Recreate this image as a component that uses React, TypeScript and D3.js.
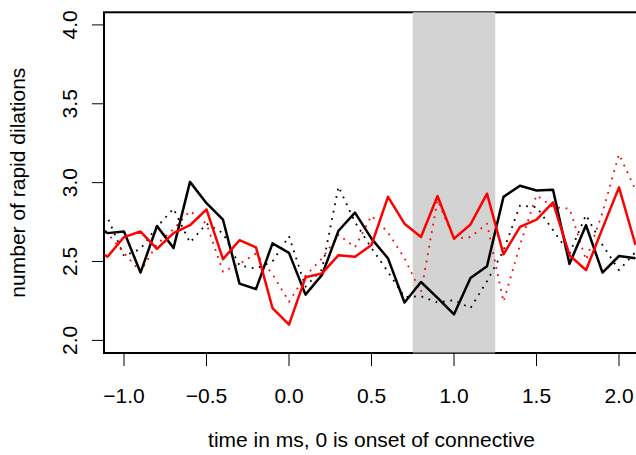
import React from "react";
import * as d3 from "d3";

// time bins (ms), one before the visible range so the lines run into the left edge
const times = [-1.2, -1.1, -1.0, -0.9, -0.8, -0.7, -0.6, -0.5, -0.4, -0.3,
    -0.2, -0.1, 0.0, 0.1, 0.2, 0.3, 0.4, 0.5, 0.6, 0.7,
    0.8, 0.9, 1.0, 1.1, 1.2, 1.3, 1.4, 1.5, 1.6, 1.7,
    1.8, 1.9, 2.0, 2.1];

const blackSolid = [2.76, 2.68, 2.69, 2.43, 2.725, 2.585, 3.005, 2.87, 2.765, 2.36,
    2.325, 2.615, 2.555, 2.29, 2.415, 2.695, 2.81, 2.645, 2.52, 2.24,
    2.37, 2.27, 2.165, 2.395, 2.47, 2.91, 2.98, 2.95, 2.955, 2.485,
    2.73, 2.43, 2.535, 2.52];

const blackDotted = [2.85, 2.78, 2.535, 2.58, 2.72, 2.835, 2.62, 2.74, 2.68, 2.475,
    2.455, 2.50, 2.66, 2.34, 2.45, 2.975, 2.75, 2.585, 2.435, 2.275,
    2.28, 2.24, 2.255, 2.205, 2.375, 2.57, 2.855, 2.845, 2.70, 2.55,
    2.795, 2.605, 2.445, 2.56];

const redSolid = [2.60, 2.53, 2.655, 2.69, 2.58, 2.68, 2.73, 2.83, 2.515, 2.635,
    2.59, 2.205, 2.10, 2.40, 2.425, 2.54, 2.53, 2.605, 2.91, 2.74,
    2.655, 2.915, 2.645, 2.735, 2.93, 2.545, 2.72, 2.765, 2.875, 2.54,
    2.445, 2.71, 2.97, 2.605];

const redDotted = [2.72, 2.68, 2.555, 2.435, 2.61, 2.705, 2.82, 2.74, 2.435, 2.485,
    2.55, 2.42, 2.245, 2.41, 2.52, 2.67, 2.59, 2.79, 2.685, 2.52,
    2.305, 2.89, 2.645, 2.655, 2.74, 2.245, 2.605, 2.92, 2.845, 2.835,
    2.51, 2.81, 3.18, 2.955];

const connectiveWindow = [0.75, 1.25];
const xTicks = [-1, -0.5, 0, 0.5, 1, 1.5, 2];
const yTicks = [2, 2.5, 3, 3.5, 4];

const W = 636;
const H = 455;
const plot = {left: 104, top: 12.3, right: 639, bottom: 353};
const font = "'Liberation Sans', Arial, Helvetica, sans-serif";
const fs = 21;

const fmt = (v: number) => (v < 0 ? "\u2212" : "") + Math.abs(v).toFixed(1);

export default function App() {
    const x = d3.scaleLinear().domain([-1.1212, 2.1212]).range([plot.left, plot.right]);
    const y = d3.scaleLinear().domain([1.92, 4.08]).range([plot.bottom, plot.top]);

    const line = d3.line<number>()
        .x((_, i) => x(times[i]))
        .y(d => y(d));

    const series = [
        {values: blackDotted, color: "#000000", dotted: true},
        {values: redDotted, color: "#ff0000", dotted: true},
        {values: blackSolid, color: "#000000", dotted: false},
        {values: redSolid, color: "#ff0000", dotted: false},
    ];

    return (
        <svg width={W} height={H} style={{position: "absolute", left: 0, top: 0, background: "#fff"}}
             fontFamily={font}>
            <defs>
                <clipPath id="plotArea">
                    <rect x={plot.left} y={plot.top} width={plot.right - plot.left} height={plot.bottom - plot.top}/>
                </clipPath>
            </defs>

            {/* box */}
            <rect x={plot.left} y={plot.top} width={plot.right - plot.left} height={plot.bottom - plot.top}
                  fill="none" stroke="#000" strokeWidth={2}/>

            {/* shaded window */}
            <rect x={x(connectiveWindow[0])} y={plot.top} width={x(connectiveWindow[1]) - x(connectiveWindow[0])}
                  height={plot.bottom - plot.top + 0.5} fill="#d3d3d3"/>

            <g clipPath="url(#plotArea)">
                {series.map((s, i) => (
                    <path key={i} d={line(s.values) || ""} fill="none" stroke={s.color}
                          strokeWidth={s.dotted ? 1.8 : 2.5}
                          strokeDasharray={s.dotted ? "1.8 5.7" : undefined}
                          strokeLinejoin="round"/>
                ))}
            </g>

            {/* x axis */}
            <line x1={x(xTicks[0])} x2={x(xTicks[xTicks.length - 1])} y1={plot.bottom} y2={plot.bottom} stroke="#000"/>
            {xTicks.map(t => (
                <g key={t}>
                    <line x1={x(t)} x2={x(t)} y1={plot.bottom} y2={plot.bottom + 13} stroke="#000"/>
                    <text x={x(t)} y={403} fontSize={fs} textAnchor="middle">{fmt(t)}</text>
                </g>
            ))}

            {/* y axis */}
            <line x1={plot.left} x2={plot.left} y1={y(yTicks[0])} y2={y(yTicks[yTicks.length - 1])} stroke="#000"/>
            {yTicks.map(t => (
                <g key={t}>
                    <line x1={plot.left - 12} x2={plot.left} y1={y(t)} y2={y(t)} stroke="#000"/>
                    <text transform={`translate(77, ${y(t)}) rotate(-90)`} fontSize={fs} textAnchor="middle">{fmt(t)}</text>
                </g>
            ))}

            <text x={(plot.left + plot.right) / 2} y={447} fontSize={fs} textAnchor="middle">
                time in ms, 0 is onset of connective
            </text>
            <text transform={`translate(25, ${(plot.top + plot.bottom) / 2}) rotate(-90)`} fontSize={fs}
                  textAnchor="middle">number of rapid dilations</text>
        </svg>
    );
}
